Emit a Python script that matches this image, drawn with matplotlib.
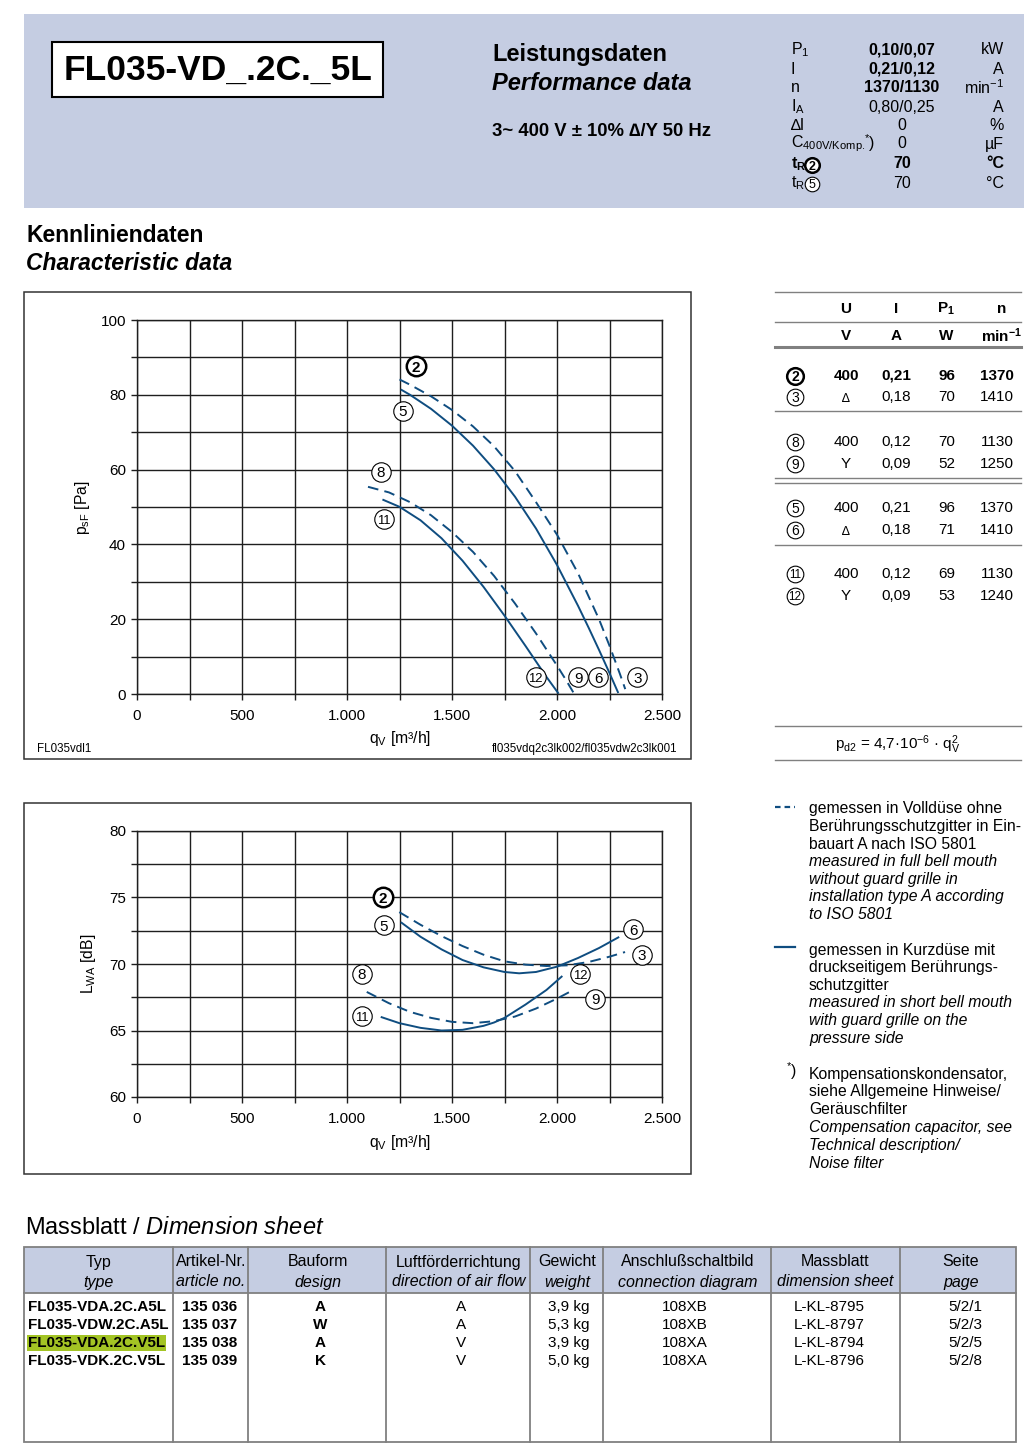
import matplotlib
matplotlib.use('Agg')
import matplotlib.pyplot as plt
import numpy as np
from matplotlib.patches import Rectangle

plt.rcParams['font.family'] = ['Liberation Sans', 'DejaVu Sans']
plt.rcParams['mathtext.fontset'] = 'custom'
plt.rcParams['mathtext.rm'] = 'Liberation Sans'
plt.rcParams['mathtext.it'] = 'Liberation Sans:italic'
plt.rcParams['mathtext.bf'] = 'Liberation Sans:bold'

# ---------------- data ----------------
title = "FL035-VD_.2C._5L"
param_values = ["0,10/0,07", "0,21/0,12", "1370/1130", "0,80/0,25", "0", "0", "70", "70"]
param_units = ["kW", "A", r"min$^\mathrm{-1}$", "A", "%", "µF", "°C", "°C"]
param_bold = [True, True, True, False, False, False, True, False]

# pressure curves  (q_V [m3/h], p_sF [Pa])
p_qv_2 = [1250, 1300, 1400, 1500, 1600, 1700, 1800, 1900, 2000, 2100, 2200, 2250, 2300, 2325]
p_ps_2 = [84.1, 82.7, 79.6, 75.95, 71.55, 66.25, 59.6, 51.3, 42.6, 32.3, 20.0, 12.9, 5.3, 1.3]
p_qv_5 = [1260, 1300, 1400, 1500, 1600, 1700, 1800, 1900, 2000, 2100, 2150, 2200, 2250, 2290]
p_ps_5 = [81.3, 80.0, 76.25, 71.75, 66.4, 60.1, 52.75, 44.25, 34.5, 23.6, 17.8, 11.8, 5.6, 0.5]
p_qv_8 = [1100, 1200, 1300, 1400, 1500, 1600, 1700, 1800, 1900, 2000, 2040, 2078]
p_ps_8 = [55.4, 53.9, 51.3, 47.8, 43.3, 38.0, 31.6, 24.2, 16.2, 7.6, 4.0, 0.4]
p_qv_11 = [1173, 1250, 1350, 1450, 1550, 1650, 1750, 1850, 1950, 2005]
p_ps_11 = [51.9, 50.05, 46.45, 41.65, 35.65, 28.65, 20.95, 12.85, 4.55, 0.3]

# sound curves (q_V [m3/h], L_WA [dB])
s_qv_2 = [1249, 1350, 1450, 1550, 1650, 1750, 1850, 1950, 2050, 2150, 2250, 2324]
s_lw_2 = [73.9, 72.95, 72.1, 71.35, 70.7, 70.2, 69.95, 69.85, 69.9, 70.15, 70.55, 70.9]
s_qv_5 = [1260, 1350, 1450, 1550, 1650, 1750, 1820, 1900, 2000, 2100, 2200, 2292]
s_lw_5 = [73.1, 72.05, 71.1, 70.3, 69.75, 69.4, 69.3, 69.4, 69.8, 70.45, 71.2, 72.0]
s_qv_8 = [1094, 1200, 1300, 1400, 1500, 1600, 1700, 1800, 1900, 2000, 2078]
s_lw_8 = [67.9, 67.05, 66.4, 65.95, 65.65, 65.55, 65.7, 66.05, 66.65, 67.4, 68.05]
s_qv_11 = [1165, 1250, 1350, 1450, 1550, 1650, 1700, 1750, 1800, 1850, 1950, 2022]
s_lw_11 = [66.0, 65.55, 65.2, 65.0, 65.05, 65.35, 65.6, 65.95, 66.45, 66.95, 68.05, 69.05]

x_ticks = [0, 250, 500, 750, 1000, 1250, 1500, 1750, 2000, 2250, 2500]
p_ticks = [0, 10, 20, 30, 40, 50, 60, 70, 80, 90, 100]
s_ticks = [60, 62.5, 65, 67.5, 70, 72.5, 75, 77.5, 80]

# operating point table
op_ids = ['2', '3', '8', '9', '5', '6', '11', '12']
op_U = ['400', '∆', '400', 'Y', '400', '∆', '400', 'Y']
op_I = ['0,21', '0,18', '0,12', '0,09', '0,21', '0,18', '0,12', '0,09']
op_P1 = ['96', '70', '70', '52', '96', '71', '69', '53']
op_n = ['1370', '1410', '1130', '1250', '1370', '1410', '1130', '1240']

# dimension table
dim_head_de = ["Typ", "Artikel-Nr.", "Bauform", "Luftförderrichtung", "Gewicht", "Anschlußschaltbild", "Massblatt", "Seite"]
dim_head_en = ["type", "article no.", "design", "direction of air flow", "weight", "connection diagram", "dimension sheet", "page"]
dim_type = ["FL035-VDA.2C.A5L", "FL035-VDW.2C.A5L", "FL035-VDA.2C.V5L", "FL035-VDK.2C.V5L"]
dim_article = ["135 036", "135 037", "135 038", "135 039"]
dim_design = ["A", "W", "A", "K"]
dim_airflow = ["A", "A", "V", "V"]
dim_weight = ["3,9 kg", "5,3 kg", "3,9 kg", "5,0 kg"]
dim_diagram = ["108XB", "108XB", "108XA", "108XA"]
dim_sheet = ["L-KL-8795", "L-KL-8797", "L-KL-8794", "L-KL-8796"]
dim_page = ["5/2/1", "5/2/3", "5/2/5", "5/2/8"]

legend_dashed = ["gemessen in Volldüse ohne", "Berührungsschutzgitter in Ein-", "bauart A nach ISO 5801",
                 "measured in full bell mouth", "without guard grille in", "installation type A according", "to ISO 5801"]
legend_solid = ["gemessen in Kurzdüse mit", "druckseitigem Berührungs-", "schutzgitter",
                "measured in short bell mouth", "with guard grille on the", "pressure side"]
legend_note = ["Kompensationskondensator,", "siehe Allgemeine Hinweise/", "Geräuschfilter",
               "Compensation capacitor, see", "Technical description/", "Noise filter"]

# ---------------- styling ----------------
W, H = 1024, 1449
BAND = '#c5cde2'
CURVE = '#0f4d80'
GRID = '#1e1e1e'
LINEG = '#808080'

fig = plt.figure(figsize=(W / 100, H / 100), dpi=100)
bg = fig.add_axes([0, 0, 1, 1])
bg.set_xlim(0, W)
bg.set_ylim(H, 0)
bg.axis('off')


def rect_px(x0, y0, x1, y1):
    return [x0 / W, 1 - y1 / H, (x1 - x0) / W, (y1 - y0) / H]


def circ(ax, x, y, lab, bold=False, ms=14, fs=11.0):
    ax.plot([x], [y], marker='o', ms=ms, mfc='white', mec='black',
            mew=1.8 if bold else 0.8, ls='none', clip_on=False, zorder=10)
    f = fs if len(lab) == 1 else fs - 1.6
    ax.annotate(lab, (x, y), xytext=(0, -f * 0.36), textcoords='offset points',
                ha='center', va='baseline', fontsize=f,
                fontweight='bold' if bold else 'normal', zorder=11,
                annotation_clip=False)


def T(x, y, s, **kw):
    kw.setdefault('va', 'center')
    kw.setdefault('fontsize', 11.3)
    bg.text(x, y, s, **kw)


# ---------------- header ----------------
bg.add_patch(Rectangle((24, 14), 1000, 194, fc=BAND, ec='none', zorder=0))
bg.add_patch(Rectangle((52, 42), 331, 55, fc='white', ec='black', lw=1.5, zorder=1))
T(218, 70, title, ha='center', fontsize=25.5, fontweight='bold')
T(492, 55, "Leistungsdaten", fontsize=17, fontweight='bold')
T(492, 84, "Performance data", fontsize=17, fontweight='bold', fontstyle='italic')
T(492, 131, "3~ 400 V ± 10% ∆/Y 50 Hz", fontsize=13.3, fontweight='bold')

prow = [50, 69, 88, 107, 125, 144, 164, 183]
T(791, prow[0], r"P$_\mathrm{1}$", fontsize=11.5)
T(791, prow[1], "I", fontsize=11.5)
T(791, prow[2], "n", fontsize=11.5)
T(791, prow[3], r"I$_\mathrm{A}$", fontsize=11.5)
T(791, prow[4], "∆I", fontsize=11.5)
T(791, prow[5], r"C$_\mathrm{400V/Komp.}$", fontsize=11.5)
T(864, prow[5] - 1, r"$^\mathrm{*}$)", fontsize=11.5)
T(791, prow[6], r"$\mathbf{t}_\mathbf{R}$", fontsize=11.5)
T(791, prow[7], r"t$_\mathrm{R}$", fontsize=11.5)
circ(bg, 812, prow[6] + 1, '2', bold=True, ms=10.5, fs=9)
circ(bg, 812, prow[7] + 1, '5', ms=10.5, fs=9)
for y, v, u, b in zip(prow, param_values, param_units, param_bold):
    T(902, y, v, ha='center', fontsize=11.5, fontweight='bold' if b else 'normal')
    T(1004, y, u, ha='right', fontsize=11.5, fontweight='bold' if (b and u == '°C') else 'normal')

T(26, 235, "Kennliniendaten", fontsize=16.5, fontweight='bold')
T(26, 264, "Characteristic data", fontsize=16.5, fontweight='bold', fontstyle='italic')


# ---------------- charts ----------------
def fmt_thousand(v):
    return f"{int(v):,}".replace(',', '.')


def setup(ax, ylim, yticks, ylabs):
    ax.set_facecolor('none')
    ax.set_xlim(0, 2500)
    ax.set_ylim(*ylim)
    ax.set_xticks(x_ticks)
    ax.set_xticklabels([fmt_thousand(v) if v % 500 == 0 else '' for v in x_ticks])
    ax.set_yticks(yticks)
    ax.set_yticklabels(ylabs)
    ax.grid(True, color=GRID, lw=1.0)
    ax.set_axisbelow(True)
    ax.tick_params(direction='out', length=4, width=1.0, color=GRID, labelsize=11)
    ax.tick_params(axis='x', pad=7)
    ax.tick_params(axis='y', pad=4)
    for s in ax.spines.values():
        s.set_linewidth(1.0)
        s.set_color(GRID)


DASH = (5.5, 3.2)
LW = 1.4

# pressure chart
bg.add_patch(Rectangle((24, 292), 667, 467, fc='none', ec='#333333', lw=1.1))
ax1 = fig.add_axes(rect_px(137, 320, 662, 694))
setup(ax1, (0, 100), p_ticks, [str(v) if v % 20 == 0 else '' for v in p_ticks])
ax1.plot(p_qv_2, p_ps_2, color=CURVE, lw=LW, dashes=DASH)
ax1.plot(p_qv_5, p_ps_5, color=CURVE, lw=LW)
ax1.plot(p_qv_8, p_ps_8, color=CURVE, lw=LW, dashes=DASH)
ax1.plot(p_qv_11, p_ps_11, color=CURVE, lw=LW)
for lab, x, y, b in [('2', 1327, 87.7, True), ('5', 1267, 75.7, False), ('8', 1162, 59.4, False),
                     ('11', 1176, 46.8, False), ('12', 1898, 4.5, False), ('9', 2102, 4.5, False),
                     ('6', 2196, 4.5, False), ('3', 2382, 4.5, False)]:
    circ(ax1, x, y, lab, bold=b)
T(82, 508, r"p$_\mathrm{sF}$ [Pa]", ha='center', rotation=90, fontsize=11.3)
T(400, 739, r"q$_\mathrm{V}$ [m³/h]", ha='center', fontsize=11.3)
T(37, 749, "FL035vdl1", fontsize=8.3)
T(677, 749, "fl035vdq2c3lk002/fl035vdw2c3lk001", ha='right', fontsize=8.3)

# sound chart
bg.add_patch(Rectangle((24, 803), 667, 371, fc='none', ec='#333333', lw=1.1))
ax2 = fig.add_axes(rect_px(137, 831, 662, 1097))
setup(ax2, (60, 80), s_ticks, [str(int(v)) if v % 5 == 0 else '' for v in s_ticks])
ax2.plot(s_qv_2, s_lw_2, color=CURVE, lw=LW, dashes=DASH)
ax2.plot(s_qv_5, s_lw_5, color=CURVE, lw=LW)
ax2.plot(s_qv_8, s_lw_8, color=CURVE, lw=LW, dashes=DASH)
ax2.plot(s_qv_11, s_lw_11, color=CURVE, lw=LW)
for lab, x, y, b in [('2', 1171, 75.0, True), ('5', 1176, 72.9, False), ('8', 1071, 69.25, False),
                     ('11', 1071, 66.1, False), ('6', 2362, 72.6, False), ('3', 2405, 70.7, False),
                     ('12', 2110, 69.25, False), ('9', 2181, 67.4, False)]:
    circ(ax2, x, y, lab, bold=b)
T(88, 964, r"L$_\mathrm{WA}$ [dB]", ha='center', rotation=90, fontsize=11.3)
T(400, 1143, r"q$_\mathrm{V}$ [m³/h]", ha='center', fontsize=11.3)

# ---------------- right operating table ----------------
for y, lw in [(292, 1.0), (322, 1.0), (347, 2.2), (411, 1.0), (478, 1.0), (483, 1.0), (545, 1.0), (726, 1.0), (760, 1.0)]:
    bg.plot([775, 1021], [y, y], color=LINEG, lw=lw)
colx = [846, 896, 947, 997]
T(846, 309, "U", ha='center', fontweight='bold', fontsize=11)
T(896, 309, "I", ha='center', fontweight='bold', fontsize=11)
T(946, 309, r"P$_\mathbf{1}$", ha='center', fontweight='bold', fontsize=11)
T(1002, 309, "n", ha='center', fontweight='bold', fontsize=11)
T(846, 336, "V", ha='center', fontweight='bold', fontsize=11)
T(896, 336, "A", ha='center', fontweight='bold', fontsize=11)
T(946, 336, "W", ha='center', fontweight='bold', fontsize=11)
T(1002, 336, r"min$^\mathbf{-1}$", ha='center', fontweight='bold', fontsize=11)
rowy = [376, 397, 442, 464, 508, 530, 574, 596]
for i, y in enumerate(rowy):
    b = 'bold' if i == 0 else 'normal'
    circ(bg, 795, y, op_ids[i], bold=(i == 0), ms=12, fs=10)
    T(colx[0], y + (2 if op_U[i] == '∆' else 0), op_U[i], ha='center', fontweight=b, fontsize=11 if op_U[i] != '∆' else 9)
    T(colx[1], y, op_I[i], ha='center', fontweight=b, fontsize=11)
    T(colx[2], y, op_P1[i], ha='center', fontweight=b, fontsize=11)
    T(colx[3], y, op_n[i], ha='center', fontweight=b, fontsize=11)
T(898, 745, r"p$_\mathrm{d2}$ = 4,7·10$^\mathrm{-6}$ · q$_\mathrm{V}^\mathrm{2}$", ha='center', fontsize=11)

# ---------------- legend text ----------------
bg.plot([775, 795], [807, 807], color=CURVE, lw=1.6, dashes=(2.5, 1.8))
for i, s in enumerate(legend_dashed):
    T(809, 809 + i * 17.6, s, fontstyle='italic' if i >= 3 else 'normal')
bg.plot([775, 795], [947, 947], color=CURVE, lw=1.6)
for i, s in enumerate(legend_solid):
    T(809, 950 + i * 17.6, s, fontstyle='italic' if i >= 3 else 'normal')
T(786, 1071, r"$^\mathrm{*}$)", fontsize=11.3)
for i, s in enumerate(legend_note):
    T(809, 1074 + i * 17.8, s, fontstyle='italic' if i >= 3 else 'normal')

# ---------------- dimension sheet ----------------
T(25, 1228, r"Massblatt / $\mathit{Dimension\ sheet}$", fontsize=17)
bg.add_patch(Rectangle((24, 1247), 992, 46, fc=BAND, ec='none'))
bg.add_patch(Rectangle((24, 1247), 992, 195, fc='none', ec=LINEG, lw=1.3))
bg.plot([24, 1016], [1293, 1293], color=LINEG, lw=1.3)
for x in [173, 248, 386, 530, 603, 771, 900]:
    bg.plot([x, x], [1247, 1442], color=LINEG, lw=1.3)
head_x = [98, 211, 318, 459, 567, 688, 835, 961]
for x, de, en in zip(head_x, dim_head_de, dim_head_en):
    T(x, 1262, de, ha='center', fontsize=11.5)
    T(x, 1282, en, ha='center', fontsize=11.5, fontstyle='italic')
body_y = [1307, 1325, 1343, 1361]
for i, y in enumerate(body_y):
    kw = {}
    if i == 2:
        kw['bbox'] = dict(boxstyle='square,pad=0.08', fc='#a3c424', ec='none')
    T(28, y, dim_type[i], fontweight='bold', fontsize=11, **kw)
    T(182, y, dim_article[i], fontweight='bold', fontsize=11)
    T(320, y, dim_design[i], ha='center', fontweight='bold', fontsize=11)
    T(461, y, dim_airflow[i], ha='center', fontsize=11)
    T(569, y, dim_weight[i], ha='center', fontsize=11)
    T(685, y, dim_diagram[i], ha='center', fontsize=11)
    T(829, y, dim_sheet[i], ha='center', fontsize=11)
    T(965, y, dim_page[i], ha='center', fontsize=11)

fig.savefig('out.png', dpi=100)
